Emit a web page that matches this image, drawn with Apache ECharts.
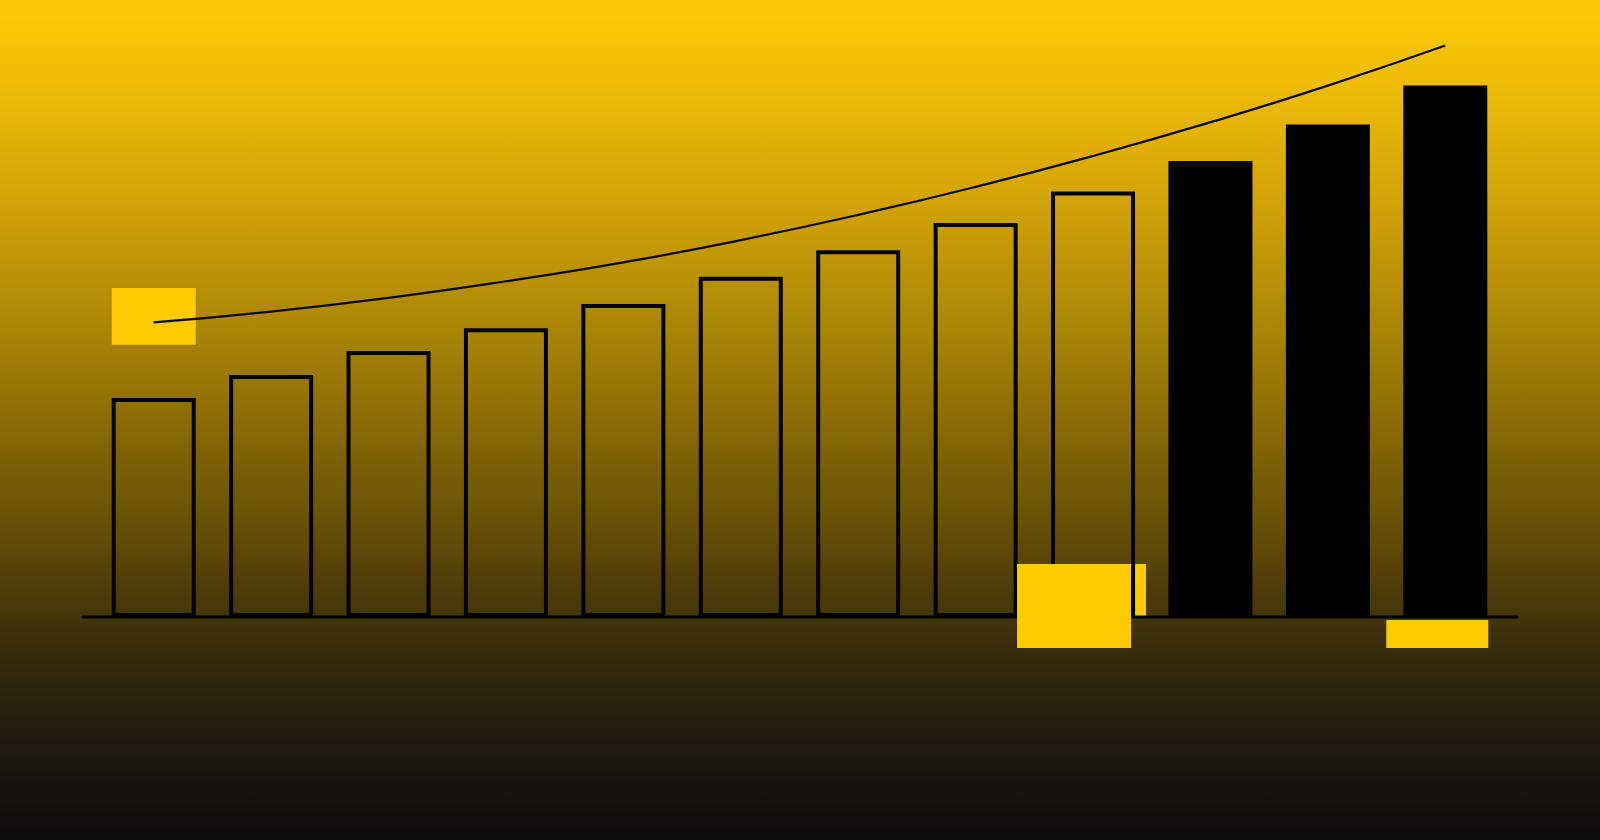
<!DOCTYPE html>
<html>
<head>
<meta charset="utf-8">
<script src="https://cdn.jsdelivr.net/npm/echarts@6/dist/echarts.min.js"></script>
<style>
html, body { margin: 0; padding: 0; overflow: hidden; background: #0c0b0d; }
#chart {
    width: 1600px;
    height: 840px;
    background: linear-gradient(to bottom,
        #fdca06 0%, #efbc08 10%, #d2a308 24%, #ad8807 38%, #866706 52%,
        #654e07 63%, #4b3a09 71%, #33290d 79%, #1e1911 89%, #0c0b0d 100%);
}
</style>
</head>
<body>
<div id="chart"></div>
<script>
// data (no axis labels, arbitrary 0-100 scale)
var categories = ['1', '2', '3', '4', '5', '6', '7', '8', '9', '10', '11', '12'];
var barValues = [38.3, 42.3, 46.5, 50.5, 54.7, 59.5, 64.1, 68.9, 74.4, 79.7, 86.1, 92.9];
var trendValues = [51.5, 53.4, 55.8, 58.7, 62.0, 65.9, 70.3, 75.2, 80.6, 86.5, 92.9, 99.9];
var filledFrom = 9; // last three bars are solid

var yellow = '#fecb02';

var chart = echarts.init(document.getElementById('chart'));

var barData = barValues.map(function (v, i) {
    var solid = i >= filledFrom;
    return {
        value: v,
        itemStyle: {
            color: solid ? '#000' : 'rgba(0,0,0,0)',
            borderColor: '#000',
            borderWidth: 4
        }
    };
});

chart.setOption({
    backgroundColor: 'transparent',
    animation: false,
    grid: { left: 95, right: 96, top: 45, bottom: 223 },
    xAxis: {
        type: 'category',
        data: categories,
        boundaryGap: true,
        axisLine: { show: false },
        axisTick: { show: false },
        axisLabel: { show: false },
        splitLine: { show: false }
    },
    yAxis: {
        type: 'value',
        min: 0,
        max: 100,
        axisLine: { show: false },
        axisTick: { show: false },
        axisLabel: { show: false },
        splitLine: { show: false }
    },
    series: [
        {
            type: 'bar',
            data: barData,
            barWidth: 84,
            z: 2
        },
        {
            type: 'line',
            data: trendValues,
            smooth: true,
            symbol: 'none',
            lineStyle: { color: '#0a0803', width: 2.2 },
            z: 3
        }
    ]
});

// decorations placed relative to the axes
function pt(cat, val) {
    return chart.convertToPixel({ xAxisIndex: 0, yAxisIndex: 0 }, [cat, val]);
}
var base = pt(0, 0)[1];
var first = pt(0, 0)[0];
var last = pt(categories.length - 1, 0)[0];
var unit = base - pt(0, 1)[1];

function rectAt(x1, y1, x2, y2, z) {
    return {
        type: 'rect',
        z: z,
        shape: { x: x1, y: y1, width: x2 - x1, height: y2 - y1 },
        style: { fill: yellow }
    };
}

var c0 = pt(0, 0)[0];
var c8 = pt(8, 0)[0];
var c11 = pt(11, 0)[0];

chart.setOption({
    graphic: [
        // yellow block behind the start of the trend line
        rectAt(c0 - 42, base - 57.5 * unit, c0 + 42, base - 47.6 * unit, 0),
        // baseline
        {
            type: 'line',
            z: 5,
            shape: { x1: first - 72, y1: base, x2: last + 73, y2: base },
            style: { stroke: '#000', lineWidth: 3 }
        },
        // yellow block over the foot of bar 9
        rectAt(c8 - 76, base - 53, c8 + 38, base + 31, 10),
        rectAt(c8 + 42, base - 53, c8 + 53, base, 1),
        // yellow strip under the last bar
        rectAt(c11 - 59, base + 3, c11 + 43, base + 31, 10)
    ]
});
</script>
</body>
</html>
